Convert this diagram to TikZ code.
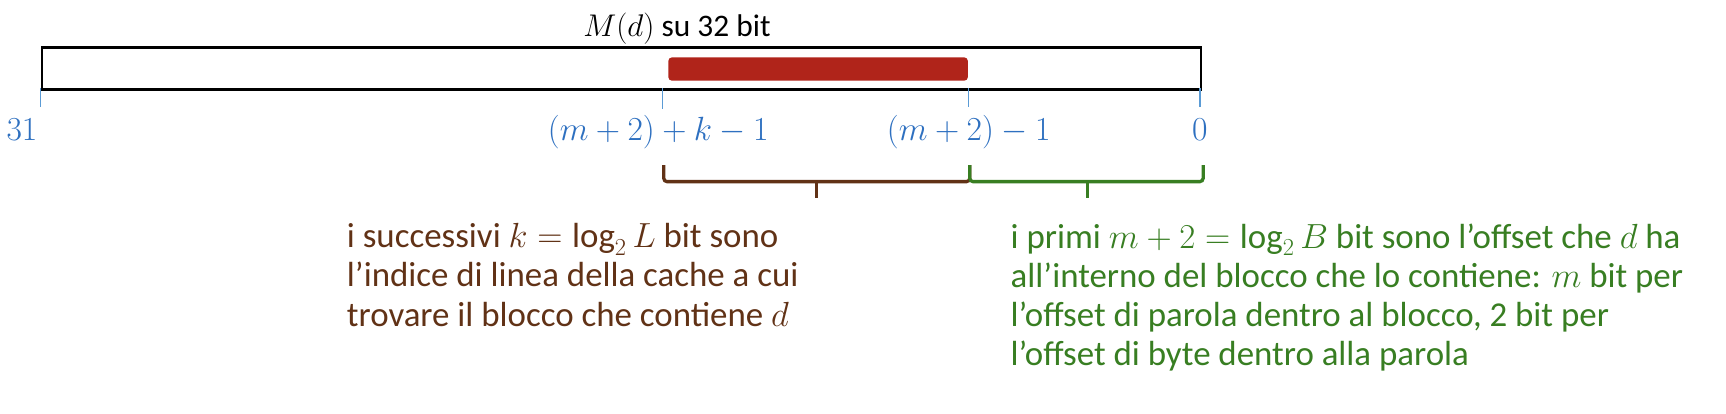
\documentclass[tikz,border=0pt]{standalone}
\usepackage{fix-cm}
\usepackage{fontspec}
\setmainfont{Carlito}
\definecolor{lblblue}{RGB}{46,112,192}
\definecolor{tickblue}{RGB}{91,155,213}
\definecolor{barred}{RGB}{176,36,26}
\definecolor{brbrown}{RGB}{97,50,22}
\definecolor{grgreen}{RGB}{56,126,34}
\begin{document}
\begin{tikzpicture}[x=1pt,y=-1pt,
  lbl/.style={text=lblblue, font=\fontsize{30.5}{34}\selectfont, inner sep=0pt},
  tickline/.style={draw=tickblue, line width=1.3pt},
  bracestyle/.style={line width=3pt, rounded corners=3pt},
  para/.style={font=\fontsize{31.7}{35.5}\selectfont, align=left, inner sep=0pt, anchor=north west}]
\useasboundingbox (0,0) rectangle (1568,376);
% title
\node[anchor=base, font=\fontsize{28.5}{32}\selectfont, inner sep=0pt] (title) at (615,33) {$M(d)$ su 32 bit};
% register box
\node[draw, line width=2.4pt, minimum width=1053pt, minimum height=38pt, anchor=north west, inner sep=0pt] (box) at (37,42) {};
\node[fill=barred, rounded corners=3pt, minimum width=272pt, minimum height=21pt, anchor=north west, inner sep=0pt] (bar) at (607,52) {};
% ticks
\coordinate (ta) at (37,80);   \coordinate (tae) at (37,97);
\coordinate (tb) at (602,80);  \coordinate (tbe) at (602,99);
\coordinate (tc) at (880,80);  \coordinate (tce) at (880,97);
\coordinate (td) at (1090,80); \coordinate (tde) at (1090,97);
\draw[tickline] (ta) -- (tae);
\draw[tickline] (tb) -- (tbe);
\draw[tickline] (tc) -- (tce);
\draw[tickline] (td) -- (tde);
% labels
\node[lbl, anchor=base] (l31) at (20,128) {$31$};
\node[lbl, anchor=base] (lk) at (598,128) {$(m+2)+k-1$};
\node[lbl, anchor=base] (lm) at (880,128) {$(m+2)-1$};
\node[lbl, anchor=base] (l0) at (1090,128) {$0$};
% braces
\draw[bracestyle, draw=brbrown] (603,150) -- (603,165) -- (881,165) -- (881,150);
\draw[line width=3pt, draw=brbrown] (742,164) -- (742,180);
\draw[bracestyle, draw=grgreen] (881,150) -- (881,165) -- (1093,165) -- (1093,150);
\draw[line width=3pt, draw=grgreen] (988,164) -- (988,180);
% texts
\node[para, text=brbrown] (tbrown) at (315,203) {i successivi $k=\log_2 L$ bit sono\\l’indice di linea della cache a cui\\trovare il blocco che contiene $d$};
\node[para, text=grgreen] (tgreen) at (918,203) {i primi $m+2=\log_2 B$ bit sono l’offset che $d$ ha\\all’interno del blocco che lo contiene: $m$ bit per\\l’offset di parola dentro al blocco, 2 bit per\\l’offset di byte dentro alla parola};
\end{tikzpicture}
\end{document}
